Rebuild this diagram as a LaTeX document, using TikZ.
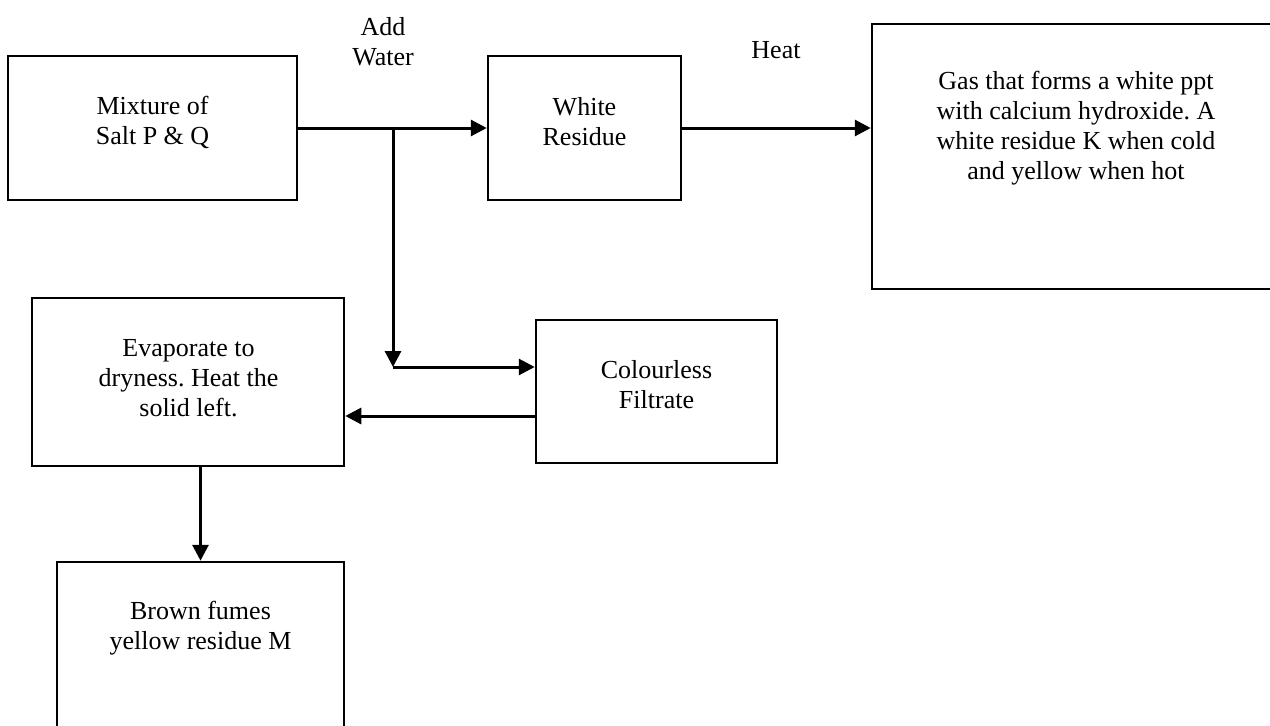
\documentclass[tikz,border=0pt]{standalone}
\usepackage{fontspec}
\setmainfont{Liberation Serif}
\usetikzlibrary{arrows.meta,calc}

\tikzset{
  box/.style={draw, line width=2.5pt, inner sep=0pt},
  txt/.style={align=center, font=\fontsize{26}{30}\selectfont},
  arr/.style={line width=3pt, -{Triangle[length=16pt,width=16pt]}}
}

\begin{document}
\frenchspacing
\begin{tikzpicture}[x=1pt, y=-1pt]

  % page frame
  \useasboundingbox (0,0) rectangle (1270,726);

  % Boxes
  \node[box, minimum width=289pt, minimum height=144pt] (mix) at (152.5,128) {};
  \node[box, minimum width=193pt, minimum height=144pt] (white) at (584.5,128) {};
  \node[box, minimum width=408pt, minimum height=265pt] (gas) at (1076,156.5) {};
  \node[box, minimum width=312pt, minimum height=168pt] (evap) at (188,382) {};
  \node[box, minimum width=241pt, minimum height=143pt] (filt) at (656.5,391.5) {};
  \node[box, minimum width=287pt, minimum height=190pt] (brown) at (200.5,657) {};

  % Texts in the boxes
  \node[txt] (mixT) at (152.5,122) {Mixture of\\Salt P \& Q};
  \node[txt] (whiteT) at (584.5,122) {White\\Residue};
  \node[txt] (gasT) at (1076,128) {Gas that forms a white ppt\\with calcium hydroxide. A\\white residue K when cold\\and yellow when hot};
  \node[txt] (evapT) at (188.5,378.5) {Evaporate to\\dryness. Heat the\\solid left.};
  \node[txt] (filtT) at (656.5,385) {Colourless\\Filtrate};
  \node[txt] (brownT) at (200.5,628) {Brown fumes\\yellow residue M};

  % Labels on the arrows
  \node[txt] (water) at (383,42) {Add\\Water};
  \node[txt] (heat) at (776,50) {Heat};

  % Arrows
  \coordinate (split) at (393,128);
  \coordinate (bend) at (393,367);
  \coordinate (back) at (536,416);

  \draw[arr] (mix.east) -- (white.west);
  \draw[arr] (white.east) -- (white.east -| gas.west);
  \draw[arr] (split) -- (bend);
  \draw[arr] (bend) -- (bend -| filt.west);
  \draw[arr] (back) -- (back -| evap.east);
  \draw[arr] (brown.north |- evap.south) -- (brown.north);

\end{tikzpicture}
\end{document}
